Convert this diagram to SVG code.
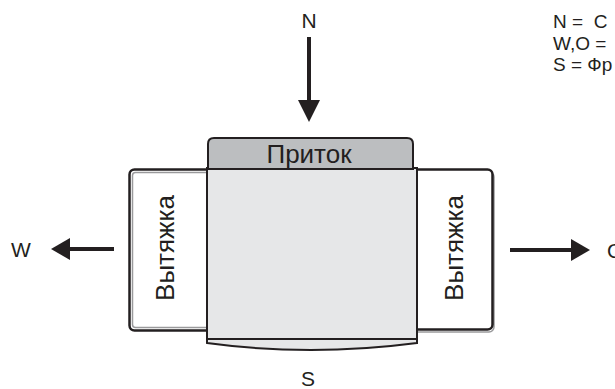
<svg xmlns="http://www.w3.org/2000/svg" width="615" height="389" viewBox="0 0 615 389">
<style>
  text { font-family: "Liberation Sans", Arial, sans-serif; fill: #231f20; }
  .lbl { font-size: 21px; }
  .leg { font-size: 19px; }
  .big { font-size: 26px; }
  .outer { fill: #ffffff; stroke: #231f20; stroke-width: 2.5; }
  .inner { fill: none; stroke: #9a9a9c; stroke-width: 1.5; }
  .arrow { stroke: #231f20; stroke-width: 4; fill: none; }
  .head { fill: #231f20; }
</style>
<g id="connectors">
  <line class="arrow" x1="309" y1="37" x2="309" y2="102"/>
  <polygon class="head" points="298,100 320,100 309,122"/>
  <line class="arrow" x1="114" y1="249" x2="68" y2="249"/>
  <polygon class="head" points="70,238 70,260 51,249"/>
  <line class="arrow" x1="510" y1="250" x2="573" y2="250"/>
  <polygon class="head" points="571,239 571,261 590,250"/>
</g>
<g id="exhaust-left">
  <rect class="outer" x="129.5" y="169.5" width="85" height="161" rx="5"/>
  <rect class="inner" x="132.5" y="172.5" width="80" height="155" rx="3"/>
  <text class="big" transform="translate(174,248) rotate(-90)" text-anchor="middle">Вытяжка</text>
</g>
<g id="exhaust-right">
  <rect class="inner" x="412" y="172" width="82" height="160" rx="5"/>
  <rect class="outer" x="410" y="169.5" width="82.5" height="160" rx="5"/>
  <text class="big" transform="translate(463,248) rotate(-90)" text-anchor="middle">Вытяжка</text>
</g>
<g id="unit">
  <path d="M207,339 L207,343 Q310,357 417,343 L417,339 Z" fill="#e6e7e8" stroke="#231f20" stroke-width="2"/>
  <rect x="207" y="168" width="210" height="171" fill="#e6e7e8" stroke="#231f20" stroke-width="2"/>
  <path d="M208,169 L208,144 Q208,138 214,138 L407,138 Q413,138 413,144 L413,169 Z" fill="#bcbec0" stroke="#231f20" stroke-width="2"/>
  <text class="big" x="309" y="163" text-anchor="middle">Приток</text>
</g>
<g id="labels">
  <text class="lbl" x="309" y="28" text-anchor="middle">N</text>
  <text class="lbl" x="21" y="257" text-anchor="middle">W</text>
  <text class="lbl" x="607" y="258">O</text>
  <text class="lbl" x="308" y="386" text-anchor="middle">S</text>
</g>
<g id="legend">
  <text class="leg" x="553" y="28" xml:space="preserve">N =  C</text>
  <text class="leg" x="553" y="50">W,O =</text>
  <text class="leg" x="553" y="71">S = Фр</text>
</g>
</svg>
